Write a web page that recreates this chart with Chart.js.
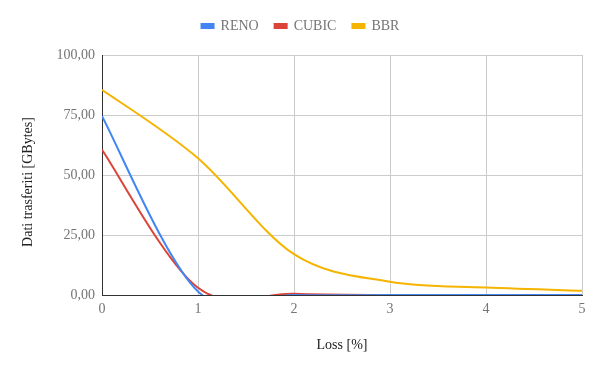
<!DOCTYPE html>
<html>
<head>
<meta charset="utf-8">
<script src="https://cdn.jsdelivr.net/npm/chart.js@4"></script>
<style>
  html, body { margin: 0; padding: 0; background: #fff; }
  #wrap { width: 601px; height: 371px; }
</style>
</head>
<body>
<div id="wrap"><canvas id="lossChart" width="601" height="371"></canvas></div>
<script>
'use strict';

// ── Data ─────────────────────────────────────
const LOSS  = [0, 1, 2, 3, 4, 5];
const RENO  = [74.5, 1.5, 0, 0, 0, 0];
const CUBIC = [60.5, 3, 0.5, 0, 0, 0];
const BBR   = [85.5, 57, 17, 5.5, 3.1, 1.8];
const Y_TICKS = [0, 25, 50, 75, 100];

const FONT = "'Liberation Serif', 'Times New Roman', serif";
const GREY = '#757575';

const pts = vals => LOSS.map((x, i) => ({ x, y: vals[i] }));
const fmt = v => v.toFixed(2).replace('.', ',');

// legend box gets a fixed height so the plot starts where the original does
const legendHeight = {
  id: 'legendHeight',
  beforeLayout(chart) {
    const lg = chart.legend;
    if (lg && !lg._fixed) {
      const fit = lg.fit;
      lg.fit = function () { fit.call(this); this.height = 52; };
      lg._fixed = true;
    }
  }
};

// Sheets-style smoothing: uniform Catmull-Rom control points (overshoot is clipped)
const catmullRom = {
  id: 'catmullRom',
  beforeDatasetDraw(chart, args) {
    const line = args.meta.dataset;
    const p = args.meta.data;
    const n = p.length;
    for (let i = 0; i < n; i++) {
      const a = p[Math.max(i - 1, 0)], b = p[Math.min(i + 1, n - 1)];
      const dx = (b.x - a.x) / 6, dy = (b.y - a.y) / 6;
      p[i].cp1x = p[i].x - dx; p[i].cp1y = p[i].y - dy;
      p[i].cp2x = p[i].x + dx; p[i].cp2y = p[i].y + dy;
    }
    line._pointsUpdated = true;
    delete line._path;
  }
};

const series = (label, vals, color) => ({
  label,
  data: pts(vals),
  borderColor: color,
  backgroundColor: color,
  borderWidth: 2,
  pointRadius: 0,
  tension: 0.4,
  fill: false
});

new Chart(document.getElementById('lossChart'), {
  type: 'line',
  data: {
    datasets: [
      series('RENO',  RENO,  '#4285F4'),
      series('CUBIC', CUBIC, '#DB4437'),
      series('BBR',   BBR,   '#F4B400')
    ]
  },
  plugins: [legendHeight, catmullRom],
  options: {
    responsive: false,
    animation: false,
    layout: { padding: { left: 19, right: 19, top: 3, bottom: 0 } },
    plugins: {
      legend: {
        position: 'top',
        labels: {
          boxWidth: 12, boxHeight: 4, padding: 16,
          color: GREY, font: { family: FONT, size: 14 }
        }
      },
      tooltip: { enabled: false }
    },
    scales: {
      x: {
        type: 'linear', min: 0, max: 5,
        afterFit: s => { s.height = 76; },
        border: { color: '#333', width: 1 },
        grid: { color: '#cccccc', drawTicks: false },
        ticks: { stepSize: 1, padding: 6, color: GREY, font: { family: FONT, size: 14 } },
        title: {
          display: true, text: 'Loss [%]', color: '#222',
          font: { family: FONT, size: 14 }, padding: { top: 0, bottom: 17 }
        }
      },
      y: {
        min: 0, max: 100,
        afterFit: s => { s.width = 83; },
        afterBuildTicks: s => { s.ticks = Y_TICKS.map(v => ({ value: v })); },
        border: { color: '#333', width: 1 },
        grid: { color: '#cccccc', drawTicks: false },
        ticks: { padding: 7, color: GREY, font: { family: FONT, size: 14 }, callback: v => fmt(v) },
        title: {
          display: true, text: 'Dati trasferiti [GBytes]    ', color: '#222',
          font: { family: FONT, size: 14 }, padding: { top: 1, bottom: 0 }
        }
      }
    }
  }
});
</script>
</body>
</html>
